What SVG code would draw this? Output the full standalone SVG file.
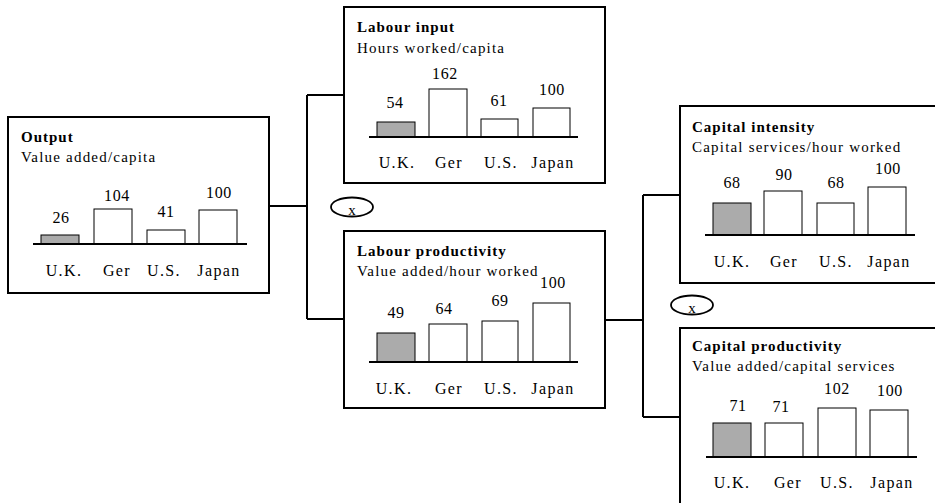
<svg xmlns="http://www.w3.org/2000/svg" width="935" height="503" viewBox="0 0 935 503">
<style>
.box{fill:#fff;stroke:#000;stroke-width:2}
.bar{fill:#fff;stroke:#000;stroke-width:1}
.uk{fill:#ababab}
.axis{stroke:#000;stroke-width:2}
.conn{fill:none;stroke:#000;stroke-width:2}
.op{fill:#fff;stroke:#000;stroke-width:1.8}
text{font-family:"Liberation Serif","Times New Roman",serif;fill:#000}
.title{font-size:15px;font-weight:bold;letter-spacing:1px}
.sub{font-size:15px;letter-spacing:1.2px}
.val{font-size:16px;letter-spacing:0.6px;text-anchor:middle}
.cat{font-size:16px;letter-spacing:1.4px;text-anchor:middle}
.x{font-size:15px;text-anchor:middle}
</style>
<rect width="935" height="503" fill="#fff"/>
<g id="connectors">
<path class="conn" d="M269,206H307M307,95V319M307,95H344M307,319H345"/>
<path class="conn" d="M605,320H643M643,195V417M643,195H680M643,417H680"/>
<ellipse class="op" cx="352" cy="207" rx="21" ry="9.5"/>
<text class="x" x="352" y="215">x</text>
<ellipse class="op" cx="692" cy="305" rx="21" ry="9.5"/>
<text class="x" x="692" y="313">x</text>
</g>
<g id="output">
<rect class="box" x="8" y="117" width="261" height="176"/>
<text class="title" x="21" y="142">Output</text>
<text class="sub" x="21" y="162">Value added/capita</text>
<rect class="bar uk" x="41" y="235" width="38" height="9"/>
<rect class="bar" x="94" y="209" width="38" height="35"/>
<rect class="bar" x="147" y="230" width="38" height="14"/>
<rect class="bar" x="199" y="210" width="38" height="34"/>
<line class="axis" x1="33" y1="244" x2="247" y2="244"/>
<text class="val" x="61" y="223">26</text>
<text class="val" x="117" y="201">104</text>
<text class="val" x="166" y="217">41</text>
<text class="val" x="219" y="198">100</text>
<text class="cat" x="64" y="276">U.K.</text>
<text class="cat" x="117" y="276">Ger</text>
<text class="cat" x="164" y="276">U.S.</text>
<text class="cat" x="219" y="276">Japan</text>
</g>
<g id="labour-input">
<rect class="box" x="344" y="7" width="261" height="176"/>
<text class="title" x="357" y="32">Labour input</text>
<text class="sub" x="357" y="53">Hours worked/capita</text>
<rect class="bar uk" x="377" y="122" width="38" height="15"/>
<rect class="bar" x="429" y="89" width="38" height="48"/>
<rect class="bar" x="481" y="119" width="37" height="18"/>
<rect class="bar" x="533" y="108" width="37" height="29"/>
<line class="axis" x1="369" y1="137" x2="578" y2="137"/>
<text class="val" x="395" y="108">54</text>
<text class="val" x="445" y="79">162</text>
<text class="val" x="499" y="106">61</text>
<text class="val" x="552" y="95">100</text>
<text class="cat" x="397" y="168">U.K.</text>
<text class="cat" x="449" y="168">Ger</text>
<text class="cat" x="501" y="168">U.S.</text>
<text class="cat" x="553" y="168">Japan</text>
</g>
<g id="labour-productivity">
<rect class="box" x="344" y="231" width="261" height="177"/>
<text class="title" x="357" y="256">Labour productivity</text>
<text class="sub" x="357" y="276">Value added/hour worked</text>
<rect class="bar uk" x="377" y="333" width="38" height="29"/>
<rect class="bar" x="429" y="324" width="38" height="38"/>
<rect class="bar" x="482" y="321" width="36" height="41"/>
<rect class="bar" x="533" y="303" width="37" height="59"/>
<line class="axis" x1="369" y1="362" x2="578" y2="362"/>
<text class="val" x="396" y="318">49</text>
<text class="val" x="444" y="314">64</text>
<text class="val" x="500" y="306">69</text>
<text class="val" x="553" y="288">100</text>
<text class="cat" x="394" y="394">U.K.</text>
<text class="cat" x="449" y="394">Ger</text>
<text class="cat" x="501" y="394">U.S.</text>
<text class="cat" x="553" y="394">Japan</text>
</g>
<g id="capital-intensity">
<rect class="box" x="680" y="106" width="270" height="177"/>
<text class="title" x="692" y="132">Capital intensity</text>
<text class="sub" x="692" y="152">Capital services/hour worked</text>
<rect class="bar uk" x="713" y="203" width="38" height="32"/>
<rect class="bar" x="764" y="191" width="38" height="44"/>
<rect class="bar" x="817" y="203" width="37" height="32"/>
<rect class="bar" x="868" y="187" width="38" height="48"/>
<line class="axis" x1="705" y1="235" x2="915" y2="235"/>
<text class="val" x="732" y="188">68</text>
<text class="val" x="784" y="180">90</text>
<text class="val" x="836" y="188">68</text>
<text class="val" x="888" y="174">100</text>
<text class="cat" x="732" y="267">U.K.</text>
<text class="cat" x="784" y="267">Ger</text>
<text class="cat" x="836" y="267">U.S.</text>
<text class="cat" x="889" y="267">Japan</text>
</g>
<g id="capital-productivity">
<rect class="box" x="680" y="328" width="270" height="190"/>
<text class="title" x="692" y="351">Capital productivity</text>
<text class="sub" x="692" y="371">Value added/capital services</text>
<rect class="bar uk" x="713" y="423" width="38" height="34"/>
<rect class="bar" x="765" y="423" width="38" height="34"/>
<rect class="bar" x="818" y="408" width="38" height="49"/>
<rect class="bar" x="870" y="410" width="38" height="47"/>
<line class="axis" x1="706" y1="457" x2="917" y2="457"/>
<text class="val" x="738" y="411">71</text>
<text class="val" x="781" y="412">71</text>
<text class="val" x="837" y="394">102</text>
<text class="val" x="890" y="396">100</text>
<text class="cat" x="732" y="488">U.K.</text>
<text class="cat" x="788" y="488">Ger</text>
<text class="cat" x="837" y="488">U.S.</text>
<text class="cat" x="892" y="488">Japan</text>
</g>
</svg>
